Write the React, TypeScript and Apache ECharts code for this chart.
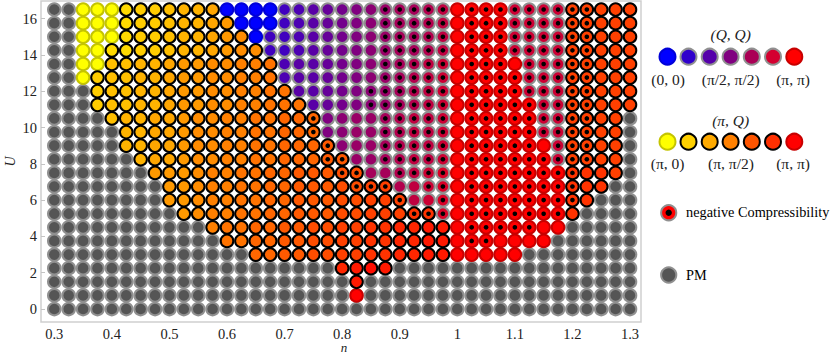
import React, { useEffect, useRef } from "react";
import * as echarts from "echarts";

// n = 0.3 ... 1.3 (41 columns), U = 16.5 ... 0 (23 rows)
const nValues = [
  0.3, 0.325, 0.35, 0.375, 0.4, 0.425, 0.45, 0.475, 0.5, 0.525, 0.55, 0.575, 0.6, 0.625,
  0.65, 0.675, 0.7, 0.725, 0.75, 0.775, 0.8, 0.825, 0.85, 0.875, 0.9, 0.925, 0.95, 0.975,
  1, 1.025, 1.05, 1.075, 1.1, 1.125, 1.15, 1.175, 1.2, 1.225, 1.25, 1.275, 1.3,
];
const uValues = [
  16.5, 15.75, 15, 14.25, 13.5, 12.75, 12, 11.25, 10.5, 9.75, 9, 8.25, 7.5, 6.75, 6, 5.25,
  4.5, 3.75, 3, 2.25, 1.5, 0.75, 0,
];

// . PM | y (pi,0) | o (pi,Q) | O (pi,Q) + neg. compr. | B (0,0) | q (Q,Q) | Q (Q,Q) + neg. compr. | r (pi,pi) | R (pi,pi) + neg. compr.
const phaseRows = [
  ".." + "yyy" + "ooooooo" + "BBBB" + "qqqqqqq" + "QQQQQ" + "r" + "RRR" + "QQQQ" + "OO" + "ooo",
  ".." + "yyy" + "oooooooo" + "BBB" + "qqqqqqq" + "QQQQQ" + "r" + "RRR" + "QQQQ" + "OO" + "ooo",
  ".." + "yyy" + "ooooooooo" + "B" + "qqqqqqqq" + "QQQQQ" + "r" + "RRR" + "QQQQ" + "OO" + "ooo",
  ".." + "yy" + "ooooooooooo" + "qqqqqqqq" + "QQQQQ" + "r" + "RRR" + "QQQQ" + "OO" + "ooo",
  ".." + "yy" + "oooooooooooo" + "qqqqqqq" + "QQQQQ" + "r" + "RRR" + "r" + "QQQ" + "OO" + "ooo",
  ".." + "y" + "ooooooooooooo" + "qqqqqqq" + "QQQQQ" + "r" + "RRRR" + "QQQ" + "OO" + "ooo",
  "..." + "oooooooooooooo" + "qqqqq" + "QQQQQQ" + "r" + "RRRR" + "QQQ" + "OO" + "ooo",
  "..." + "ooooooooooooooo" + "qqqq" + "QQQQQQ" + "r" + "RRRRR" + "QQ" + "OO" + "ooo",
  "...." + "oooooooooooooo" + "O" + "qqqq" + "QQQQQ" + "r" + "RRRRR" + "QQ" + "OO" + "oo" + ".",
  "....." + "ooooooooooooo" + "O" + "qqqq" + "QQQQQ" + "r" + "RRRRR" + "QQ" + "OO" + "oo" + ".",
  "....." + "oooooooooooooo" + "O" + "qqq" + "QQQQQ" + "r" + "RRRRR" + "r" + "Q" + "OO" + "oo" + ".",
  "......" + "ooooooooooooo" + "OO" + "qq" + "QQQQQ" + "r" + "RRRRRR" + "Q" + "OO" + "oo" + ".",
  "......." + "ooooooooooooo" + "OO" + "qq" + "QQQQ" + "r" + "RRRRRRR" + "O" + "ooo" + ".",
  "........" + "ooooooooooooo" + "OOO" + "qq" + "QQ" + "r" + "RRRRRRR" + "O" + "oo" + "..",
  "........" + "oooooooooooooooo" + "O" + "qq" + "Q" + "r" + "RRRRRRR" + "O" + "o" + "...",
  "........." + "oooooooooooooooo" + "OO" + "Q" + "r" + "RRRRRRR" + "o" + "....",
  "..........." + "ooooooooooooooooo" + "r" + "RRRRR" + "rr" + ".....",
  "............" + "oooooooooooooooo" + "r" + "RR" + "rrrr" + "......",
  ".............." + "oooooooooooooo" + "rrrrr" + "........",
  "...................." + "oooo" + ".................",
  "....................." + "o" + "...................",
  "....................." + "r" + "...................",
  ".........................................",
];

// Wave-vector level per column: value = level / 20, in units of pi (one character per column).
const orangeLevels = [
  "000333445667899a" + "00000000000000000000" + "fffff",
  "000455667889" + "9aabbb" + "000000000000000000" + "fffff",
  "0000" + "56677899aabbcccdd" + "000000000000000" + "fffff",
  "0000000" + "8889aabbccdddeefffggg" + "00000000" + "gggf0",
  "00000000000" + "abbccddeeffgghhii",
  "00000000000000000000" + "hiji",
];
const purpleLevels = [
  "000000000000000" + "556789abcddef" + "0000" + "gggg" + "00000",
  "0000000000000000" + "67789abcdefg" + "0000" + "gggg" + "00000",
  "0000000000000000000" + "abccdeffg" + "0000" + "gggg" + "00000",
  "0000000000000000000000" + "ddefgh" + "0000" + "hhhh" + "00000",
];
const orangeBandOfRow = [0, 0, 0, 0, 1, 1, 1, 1, 2, 2, 2, 2, 3, 3, 3, 3, 4, 4, 4, 5, 5, 5, 5];
const purpleBandOfRow = [0, 0, 0, 0, 1, 1, 1, 1, 2, 2, 2, 2, 3, 3, 3, 3, 3, 3, 3, 3, 3, 3, 3];
const levelDigits = "0123456789abcdefghijk";

const xTicks = [0.3, 0.4, 0.5, 0.6, 0.7, 0.8, 0.9, 1, 1.1, 1.2, 1.3];
const yTicks = [0, 2, 4, 6, 8, 10, 12, 14, 16];

const qqLegendColors = ["#0000ff", "#3000cc", "#5500aa", "#800080", "#aa0055", "#d40030", "#ff0000"];
const piQLegendColors = ["#ffff00", "#ffd000", "#ffaa00", "#ff8000", "#ff5500", "#ff3000", "#ff0000"];
const legendX = [667.5, 688.5, 709.7, 730.6, 751.8, 773, 794.3];

const FONT = '"Liberation Serif", serif';
const GREY_EDGE = "#909090";
const SYMBOL = 12.6;
const EDGE = 2;

function level(bands: string[], band: number, col: number) {
  const idx = levelDigits.indexOf((bands[band] || "").charAt(col));
  return Math.max(idx, 0) / 20;
}
function orangeColor(q: number) {
  return `rgb(255,${Math.round(255 * (1 - q))},0)`;
}
function purpleColor(q: number) {
  return `rgb(${Math.round(255 * q)},0,${Math.round(255 * (1 - q))})`;
}

function cellsOf(codes: string, color: (row: number, col: number) => string) {
  const out: any[] = [];
  phaseRows.forEach((row, r) => {
    for (let c = 0; c < nValues.length; c++) {
      if (codes.includes(row.charAt(c))) {
        out.push({ value: [nValues[c], uValues[r]], itemStyle: { color: color(r, c) } });
      }
    }
  });
  return out;
}

function phaseSeries(name: string, codes: string, edge: string, color: (r: number, c: number) => string) {
  return {
    name,
    type: "scatter",
    symbol: "circle",
    symbolSize: SYMBOL,
    silent: true,
    clip: false,
    itemStyle: { borderColor: edge, borderWidth: EDGE, opacity: 1 },
    data: cellsOf(codes, color),
  };
}

function legendText(text: string, x: number, y: number, extra: any = {}) {
  return {
    type: "text",
    x,
    y,
    silent: true,
    style: {
      text,
      fontFamily: FONT,
      fontSize: 15.5,
      fill: "#222",
      align: "center",
      verticalAlign: "middle",
      ...extra,
    },
  };
}
function legendCircle(cx: number, cy: number, r: number, fill: string, stroke?: string, lineWidth = 2) {
  return {
    type: "circle",
    silent: true,
    shape: { cx, cy, r },
    style: { fill, stroke: stroke || "none", lineWidth: stroke ? lineWidth : 0 },
  };
}

export default function App() {
  const ref = useRef<HTMLDivElement>(null);

  useEffect(() => {
    const chart = echarts.init(ref.current!, undefined, { renderer: "svg" });
    const orange = (r: number, c: number) => orangeColor(level(orangeLevels, orangeBandOfRow[r], c));
    const purple = (r: number, c: number) => purpleColor(level(purpleLevels, purpleBandOfRow[r], c));

    const qqEdges = ["#0000d8", GREY_EDGE, GREY_EDGE, GREY_EDGE, GREY_EDGE, GREY_EDGE, "#c80000"];
    const piQEdges = ["#c4c400", "#000", "#000", "#000", "#000", "#000", "#c80000"];

    const graphics: any[] = [
      legendText("n", 344, 347.4, { fontStyle: "italic", fontSize: 13 }),
      legendText("(Q, Q)", 730.7, 34.5, { fontStyle: "italic" }),
      legendText("(0, 0)", 668, 79),
      legendText("(π/2, π/2)", 730.7, 79),
      legendText("(π, π)", 793, 79),
      legendText("(π, Q)", 730.7, 120, { fontStyle: "italic" }),
      legendText("(π, 0)", 667.7, 163.5),
      legendText("(π, π/2)", 731, 163.5),
      legendText("(π, π)", 793, 163.5),
      legendText("negative Compressibility", 686, 212, { align: "left", fill: "#000", fontSize: 14.3 }),
      legendText("PM", 686, 275, { align: "left", fill: "#000", fontSize: 14.3 }),
      legendCircle(668.7, 212.7, 7.6, "#ff0000", GREY_EDGE),
      legendCircle(668.7, 212.7, 3.2, "#000"),
      legendCircle(668.7, 275, 7.6, "#555", GREY_EDGE),
    ];
    legendX.forEach((x, i) => {
      graphics.push(legendCircle(x, 56.7, 8, qqLegendColors[i], qqEdges[i]));
      graphics.push(legendCircle(x, 141.7, 8, piQLegendColors[i], piQEdges[i]));
    });

    chart.setOption({
      animation: false,
      grid: { left: 41, top: 1, width: 600, height: 321, outerBoundsMode: "none", show: true, borderColor: "#cfcfcf", borderWidth: 1.5, backgroundColor: "transparent" },
      xAxis: {
        type: "value",
        min: 0.2769,
        max: 1.3191,
        axisLine: { show: false },
        splitLine: { show: false },
        axisTick: { show: true, inside: true, length: 4, lineStyle: { color: "#c4c4c4" }, customValues: xTicks },
        axisLabel: { fontFamily: FONT, fontSize: 14.5, color: "#222", margin: 4, customValues: xTicks, formatter: (v: number) => String(v) },
      },
      yAxis: {
        type: "value",
        min: -0.716,
        max: 16.97,
        name: "U",
        nameLocation: "middle",
        nameGap: 24,
        nameMoveOverlap: false,
        nameTextStyle: { fontFamily: FONT, fontSize: 14, fontStyle: "italic", color: "#222" },
        axisLine: { show: false },
        splitLine: { show: false },
        axisTick: { show: true, inside: true, length: 4, lineStyle: { color: "#c4c4c4" }, customValues: yTicks },
        axisLabel: { fontFamily: FONT, fontSize: 14.5, color: "#222", margin: 4, customValues: yTicks, formatter: (v: number) => String(v) },
      },
      series: [
        phaseSeries("PM", ".", GREY_EDGE, () => "#555555"),
        phaseSeries("(Q,Q)", "qQ", GREY_EDGE, purple),
        phaseSeries("(0,0)", "B", "#0000d8", () => "#0000ff"),
        phaseSeries("(pi,0)", "y", "#c4c400", () => "#ffff00"),
        phaseSeries("(pi,pi)", "rR", "#c80000", () => "#ff0000"),
        phaseSeries("(pi,Q)", "oO", "#000000", orange),
        {
          name: "negative compressibility",
          type: "scatter",
          symbol: "circle",
          symbolSize: 4.6,
          silent: true,
          clip: false,
          itemStyle: { color: "#000", opacity: 1 },
          data: cellsOf("OQR", () => "#000"),
        },
      ],
      graphic: graphics,
    });
    return () => chart.dispose();
  }, []);

  return <div ref={ref} style={{ position: "fixed", left: 0, top: 0, width: 830, height: 354, background: "#fff" }} />;
}
